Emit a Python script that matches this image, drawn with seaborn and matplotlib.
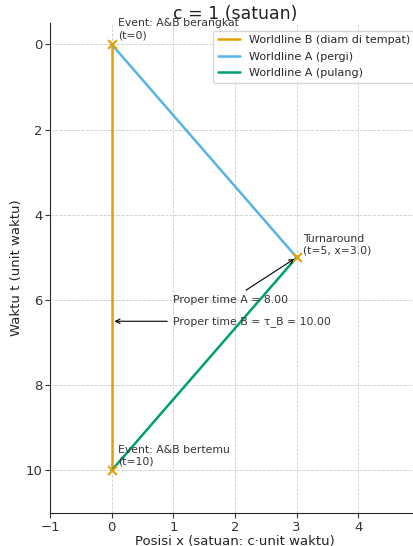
import matplotlib
matplotlib.use("Agg")
import matplotlib.pyplot as plt
import numpy as np
import pandas as pd
import seaborn as sns

# ── data ──────────────────────────────────────────────────────────────
b_x = [0, 0]
b_t = [0, 10]
out_x = [0, 3]
out_t = [0, 5]
back_x = [3, 0]
back_t = [5, 10]
event_x = [0, 3, 0]
event_t = [0, 5, 10]
tau_a = 8.00
tau_b = 10.00

orange = "#E69F00"
blue = "#56B4E9"
green = "#009E73"

sns.set_style("ticks")
plt.rcParams["font.family"] = ["DejaVu Sans"]

fig = plt.figure(figsize=(4.13, 5.46), dpi=100)
ax = fig.add_axes([50 / 413, 33 / 546, 370 / 413, 490 / 546])

sns.lineplot(x=b_x, y=b_t, estimator=None, sort=False, color=orange,
             linewidth=1.8, label="Worldline B (diam di tempat)", ax=ax)
sns.lineplot(x=out_x, y=out_t, estimator=None, sort=False, color=blue,
             linewidth=1.8, label="Worldline A (pergi)", ax=ax)
sns.lineplot(x=back_x, y=back_t, estimator=None, sort=False, color=green,
             linewidth=1.8, label="Worldline A (pulang)", ax=ax)
sns.scatterplot(x=event_x, y=event_t, marker="x", color=orange, s=40,
                linewidth=1.5, zorder=5, ax=ax)

fs = 7.8
ax.text(0.1, -0.1, "Event: A&B berangkat\n(t=0)", fontsize=fs,
        color="#333333", va="bottom")
ax.text(3.1, 4.95, "Turnaround\n(t=5, x=3.0)", fontsize=fs,
        color="#333333", va="bottom")
ax.text(0.1, 9.9, "Event: A&B bertemu\n(t=10)", fontsize=fs,
        color="#333333", va="bottom")

ax.annotate(f"Proper time A = {tau_a:.2f}", xy=(3, 5), xytext=(1.0, 6.0),
            fontsize=fs, color="#333333", va="center",
            arrowprops=dict(arrowstyle="->", color="black", lw=0.8))
ax.annotate(f"Proper time B = τ_B = {tau_b:.2f}", xy=(0, 6.5), xytext=(1.0, 6.5),
            fontsize=fs, color="#333333", va="center",
            arrowprops=dict(arrowstyle="->", color="black", lw=0.8))

ax.set_xlim(-1, 5)
ax.set_ylim(11, -0.5)
ax.set_xticks([-1, 0, 1, 2, 3, 4, 5])
ax.set_yticks([0, 2, 4, 6, 8, 10])
ax.grid(True, linestyle="--", linewidth=0.6, color="#cccccc")
ax.tick_params(labelsize=9.5, colors="#333333", length=3.5, pad=2)
ax.set_xlabel("Posisi x (satuan: c·unit waktu)", fontsize=9.5,
              color="#222222", labelpad=1)
ax.set_ylabel("Waktu t (unit waktu)", fontsize=9.5, color="#222222",
              labelpad=2)
ax.set_title("Paradoks Kembar: Diagram Ruang-Waktu (Minkowski)\nc = 1 (satuan)",
             fontsize=12.5, color="#222222", pad=3, linespacing=1.5)
sns.despine(ax=ax)
ax.legend(loc="upper right", fontsize=8, frameon=True,
          bbox_to_anchor=(1.0, 0.996), labelspacing=0.6)

fig.savefig("out.png", dpi=100)
